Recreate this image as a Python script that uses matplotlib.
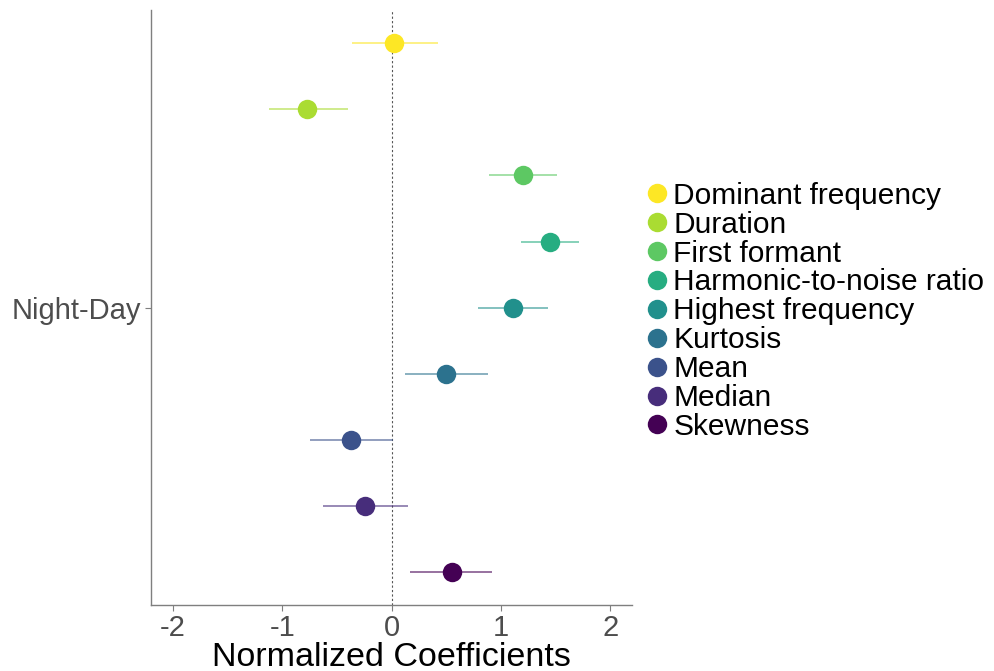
import matplotlib
matplotlib.use('Agg')
import matplotlib.pyplot as plt
from matplotlib.lines import Line2D

plt.rcParams['font.family'] = ['Liberation Sans', 'DejaVu Sans']

# DATA (top to bottom as drawn)
predictors = ['Dominant frequency', 'Duration', 'First formant',
              'Harmonic-to-noise ratio', 'Highest frequency', 'Kurtosis',
              'Mean', 'Median', 'Skewness']
estimate = [0.02, -0.77, 1.20, 1.445, 1.11, 0.50, -0.37, -0.24, 0.55]
lower = [-0.36, -1.12, 0.89, 1.18, 0.79, 0.125, -0.75, -0.63, 0.17]
upper = [0.42, -0.40, 1.51, 1.71, 1.43, 0.88, 0.01, 0.15, 0.92]
contrast = 'Night-Day'

colors = ['#FDE725', '#AADC32', '#5DC863', '#27AD81', '#21908C',
          '#2C728E', '#3B528B', '#472D7B', '#440154']

fig = plt.figure(figsize=(9.94, 6.71), dpi=100)
ax = fig.add_axes([0.152, 0.098, 0.484, 0.887])

n = len(predictors)
for i, name in enumerate(predictors):
    y = n - 1 - i
    ax.plot([lower[i], upper[i]], [y, y], color=colors[i], alpha=0.65,
            lw=1.2, solid_capstyle='butt', zorder=2)
    ax.plot(estimate[i], y, 'o', color=colors[i], ms=14, mec='none', zorder=3)

ax.axvline(0, color='#555555', ls=(0, (2, 2)), lw=0.8, zorder=1)

ax.set_xlim(-2.2, 2.2)
ax.set_ylim(-0.5, n - 0.5)
ax.set_xticks([-2, -1, 0, 1, 2])
ax.set_xticklabels(['-2', '-1', '0', '1', '2'])
ax.set_yticks([(n - 1) / 2])
ax.set_yticklabels([contrast])
ax.tick_params(axis='both', colors='#7F7F7F', labelcolor='#4D4D4D',
               labelsize=21, length=4, width=0.8)
ax.tick_params(axis='x', pad=2)
ax.tick_params(axis='y', pad=3)
ax.set_xlabel('Normalized Coefficients', fontsize=24.5, color='black',
              labelpad=0)

for side in ['top', 'right']:
    ax.spines[side].set_visible(False)
for side in ['left', 'bottom']:
    ax.spines[side].set_color('#7F7F7F')
    ax.spines[side].set_linewidth(1.0)

handles = [Line2D([], [], ls='none', marker='o', ms=14, mec='none', color=c)
           for c in colors]
fig.legend(handles, predictors, loc='center left',
           bbox_to_anchor=(0.64, 0.536), frameon=False, fontsize=21.5,
           handlelength=0.6, handletextpad=0.25, labelspacing=0.03,
           borderaxespad=0)

fig.savefig('out.png', dpi=100)
